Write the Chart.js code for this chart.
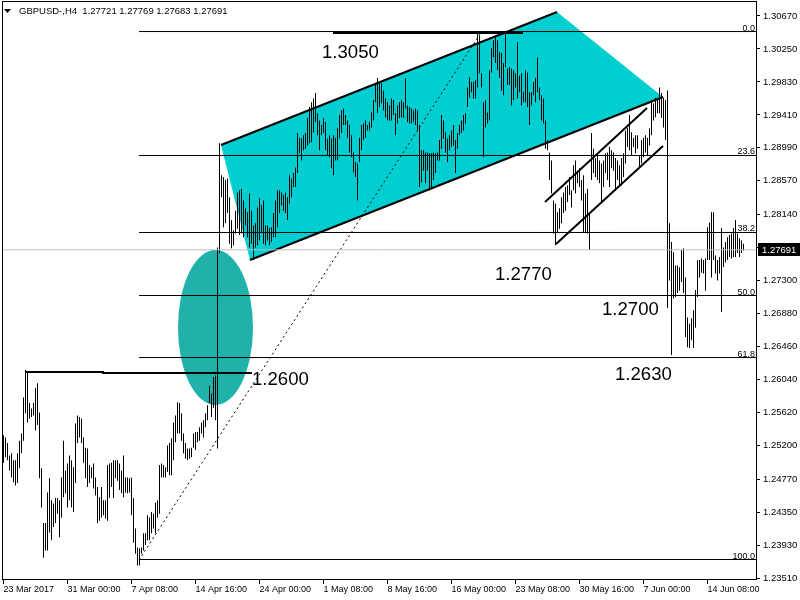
<!DOCTYPE html>
<html>
<head>
<meta charset="utf-8">
<script src="https://cdn.jsdelivr.net/npm/chart.js@4.4.1/dist/chart.umd.min.js"></script>
<style>
  html, body { margin: 0; padding: 0; background: #fff; }
  canvas { display: block; }
</style>
</head>
<body>
<canvas id="graficoGbp" width="800" height="600"></canvas>
<script>
// ---------------- dados ----------------
const tituloSimbolo = "GBPUSD-,H4  1.27721 1.27769 1.27683 1.27691";
const ultimoPreco = 1.27691;

// máximas e mínimas de cada barra H4
const maximas = [
  1.2533,1.2530,1.2523,1.2507,1.2510,1.2501,1.2501,1.2510,1.2526,1.2535,
  1.2581,1.2616,1.2613,1.2574,1.2567,1.2574,1.2593,1.2599,1.2562,1.2491,
  1.2421,1.2421,1.2460,1.2478,1.2450,1.2446,1.2453,1.2453,1.2450,1.2479,
  1.2526,1.2488,1.2497,1.2507,1.2501,1.2492,1.2548,1.2558,1.2556,1.2554,
  1.2530,1.2517,1.2516,1.2495,1.2492,1.2497,1.2479,1.2467,1.2454,1.2467,
  1.2450,1.2450,1.2495,1.2497,1.2498,1.2501,1.2501,1.2501,1.2497,1.2488,
  1.2507,1.2479,1.2479,1.2478,1.2479,1.2453,1.2414,1.2390,1.2389,1.2390,
  1.2408,1.2408,1.2431,1.2428,1.2435,1.2433,1.2447,1.2450,1.2495,1.2497,
  1.2495,1.2492,1.2520,1.2523,1.2529,1.2549,1.2558,1.2575,1.2574,1.2561,
  1.2535,1.2523,1.2516,1.2516,1.2517,1.2535,1.2537,1.2537,1.2543,1.2549,
  1.2552,1.2561,1.2571,1.2596,1.2586,1.2607,1.2609,1.2772,1.2905,1.2864,
  1.2862,1.2858,1.2860,1.2836,1.2807,1.2794,1.2819,1.2842,1.2845,1.2847,
  1.2832,1.2822,1.2817,1.2841,1.2819,1.2800,1.2803,1.2823,1.2835,1.2826,
  1.2832,1.2800,1.2800,1.2797,1.2798,1.2816,1.2832,1.2845,1.2845,1.2842,
  1.2839,1.2842,1.2836,1.2864,1.2860,1.2867,1.2874,1.2918,1.2912,1.2911,
  1.2915,1.2918,1.2937,1.2951,1.2957,1.2962,1.2969,1.2943,1.2934,1.2928,
  1.2937,1.2932,1.2911,1.2915,1.2911,1.2915,1.2912,1.2924,1.2941,1.2947,
  1.2949,1.2941,1.2934,1.2928,1.2915,1.2893,1.2881,1.2879,1.2912,1.2928,
  1.2930,1.2934,1.2928,1.2932,1.2944,1.2960,1.2981,1.2988,1.2983,1.2981,
  1.2972,1.2962,1.2957,1.2953,1.2962,1.2960,1.2943,1.2953,1.2957,1.2960,
  1.2957,1.2988,1.2953,1.2951,1.2949,1.2947,1.2949,1.2947,1.2928,1.2896,
  1.2896,1.2893,1.2893,1.2892,1.2892,1.2893,1.2892,1.2893,1.2909,1.2941,
  1.2934,1.2919,1.2911,1.2915,1.2921,1.2928,1.2909,1.2918,1.2928,1.2934,
  1.2941,1.2943,1.2976,1.2989,1.2983,1.2983,1.2985,1.3045,1.3042,1.2994,
  1.2957,1.2960,1.2944,1.2998,1.3026,1.3036,1.3040,1.3036,1.3021,1.3020,
  1.3007,1.3045,1.3000,1.3002,1.3000,1.2998,1.2994,1.3034,1.2991,1.2994,
  1.2970,1.2998,1.2995,1.2970,1.2970,1.2983,1.2988,1.3014,1.2976,1.2966,
  1.2962,1.2934,1.2909,1.2893,1.2883,1.2832,1.2828,1.2817,1.2822,1.2836,
  1.2842,1.2849,1.2851,1.2862,1.2845,1.2877,1.2883,1.2870,1.2873,1.2858,
  1.2864,1.2841,1.2847,1.2816,1.2918,1.2898,1.2886,1.2890,1.2883,1.2879,
  1.2883,1.2892,1.2893,1.2900,1.2896,1.2893,1.2886,1.2883,1.2877,1.2886,
  1.2892,1.2921,1.2925,1.2941,1.2919,1.2912,1.2915,1.2915,1.2890,1.2909,
  1.2912,1.2915,1.2912,1.2924,1.2957,1.2956,1.2963,1.2962,1.2976,1.2969,
  1.2963,1.2960,1.2972,1.2803,1.2779,1.2766,1.2749,1.2749,1.2747,1.2769,
  1.2771,1.2734,1.2683,1.2675,1.2682,1.2692,1.2718,1.2756,1.2756,1.2758,
  1.2756,1.2758,1.2798,1.2804,1.2817,1.2817,1.2762,1.2756,1.2760,1.2797,
  1.2772,1.2779,1.2785,1.2788,1.2790,1.2797,1.2807,1.2790,1.2784,1.2781,
  1.2777
];
const minimas = [
  1.2498,1.2505,1.2501,1.2488,1.2479,1.2473,1.2469,1.2472,1.2491,1.2510,
  1.2526,1.2561,1.2549,1.2554,1.2556,1.2558,1.2539,1.2546,1.2478,1.2441,
  1.2377,1.2386,1.2386,1.2409,1.2399,1.2416,1.2421,1.2433,1.2403,1.2428,
  1.2454,1.2459,1.2441,1.2450,1.2441,1.2435,1.2472,1.2523,1.2530,1.2523,
  1.2498,1.2478,1.2467,1.2472,1.2478,1.2465,1.2456,1.2421,1.2424,1.2428,
  1.2431,1.2427,1.2424,1.2453,1.2467,1.2453,1.2478,1.2475,1.2463,1.2459,
  1.2454,1.2460,1.2459,1.2460,1.2431,1.2396,1.2382,1.2367,1.2367,1.2382,
  1.2386,1.2393,1.2399,1.2399,1.2408,1.2414,1.2408,1.2428,1.2433,1.2479,
  1.2479,1.2479,1.2486,1.2482,1.2482,1.2501,1.2524,1.2535,1.2535,1.2526,
  1.2510,1.2503,1.2501,1.2503,1.2505,1.2517,1.2514,1.2524,1.2526,1.2535,
  1.2530,1.2543,1.2552,1.2574,1.2556,1.2568,1.2552,1.2516,1.2765,1.2836,
  1.2798,1.2803,1.2816,1.2777,1.2771,1.2775,1.2790,1.2796,1.2788,1.2790,
  1.2785,1.2800,1.2785,1.2772,1.2777,1.2756,1.2772,1.2775,1.2781,1.2791,
  1.2777,1.2775,1.2781,1.2775,1.2779,1.2785,1.2785,1.2798,1.2816,1.2826,
  1.2819,1.2816,1.2807,1.2828,1.2836,1.2849,1.2849,1.2867,1.2892,1.2883,
  1.2896,1.2898,1.2902,1.2905,1.2906,1.2919,1.2932,1.2915,1.2896,1.2915,
  1.2918,1.2896,1.2890,1.2887,1.2873,1.2864,1.2883,1.2883,1.2911,1.2918,
  1.2928,1.2928,1.2912,1.2893,1.2887,1.2868,1.2862,1.2832,1.2881,1.2896,
  1.2909,1.2912,1.2921,1.2921,1.2925,1.2934,1.2957,1.2943,1.2951,1.2956,
  1.2947,1.2938,1.2934,1.2934,1.2934,1.2941,1.2915,1.2930,1.2937,1.2938,
  1.2937,1.2949,1.2932,1.2930,1.2930,1.2932,1.2928,1.2921,1.2849,1.2855,
  1.2870,1.2854,1.2870,1.2845,1.2849,1.2858,1.2867,1.2883,1.2883,1.2898,
  1.2911,1.2893,1.2881,1.2896,1.2900,1.2902,1.2867,1.2898,1.2915,1.2918,
  1.2921,1.2930,1.2951,1.2963,1.2970,1.2962,1.2962,1.2976,1.2994,1.2976,
  1.2887,1.2925,1.2930,1.2934,1.2995,1.3014,1.3007,1.2998,1.2988,1.2972,
  1.2966,1.3002,1.2979,1.2979,1.2953,1.2960,1.2976,1.2962,1.2970,1.2953,
  1.2957,1.2957,1.2951,1.2928,1.2953,1.2966,1.2957,1.2970,1.2960,1.2934,
  1.2930,1.2898,1.2896,1.2858,1.2841,1.2790,1.2775,1.2791,1.2796,1.2803,
  1.2816,1.2819,1.2830,1.2839,1.2823,1.2845,1.2841,1.2854,1.2849,1.2832,
  1.2791,1.2791,1.2790,1.2769,1.2858,1.2867,1.2862,1.2858,1.2854,1.2828,
  1.2849,1.2867,1.2858,1.2849,1.2873,1.2870,1.2845,1.2858,1.2849,1.2851,
  1.2862,1.2879,1.2900,1.2896,1.2890,1.2900,1.2892,1.2898,1.2874,1.2879,
  1.2887,1.2893,1.2890,1.2902,1.2915,1.2934,1.2938,1.2943,1.2943,1.2937,
  1.2925,1.2909,1.2695,1.2730,1.2635,1.2707,1.2709,1.2714,1.2717,1.2728,
  1.2714,1.2658,1.2645,1.2644,1.2654,1.2644,1.2670,1.2709,1.2734,1.2740,
  1.2739,1.2717,1.2756,1.2756,1.2734,1.2756,1.2739,1.2730,1.2739,1.2690,
  1.2747,1.2753,1.2756,1.2760,1.2758,1.2760,1.2760,1.2765,1.2760,1.2765,
  1.2768
];

// eixo do tempo (posição = número da barra)
const rotulosTempo = ["23 Mar 2017", "31 Mar 00:00", "7 Apr 08:00", "14 Apr 16:00", "24 Apr 00:00", "1 May 08:00",
  "8 May 16:00", "16 May 00:00", "23 May 08:00", "30 May 16:00", "7 Jun 00:00", "14 Jun 08:00"];
const barrasTempo = [0, 32, 64, 96, 128, 160, 192, 224, 256, 288, 320, 352];

// eixo de preços
const rotulosPreco = [1.30670, 1.30250, 1.29830, 1.29410, 1.28990, 1.28570, 1.28140, 1.27720, 1.27300,
  1.26880, 1.26460, 1.26040, 1.25620, 1.25200, 1.24770, 1.24350, 1.23930, 1.23510];

// fibonacci
const fiboNiveis = [1.30472, 1.28893, 1.27912, 1.27109, 1.26319, 1.23746];
const fiboNomes = ["0.0", "23.6", "38.2", "50.0", "61.8", "100.0"];
const fiboInicio = 67.75;

// canal azul (bordas de cima e de baixo)
const canalCimaX = [108.75, 276.75, 329.75];
const canalCimaY = [1.29027, 1.30721, 1.29638];
const canalBaixoX = [108.75, 123.25, 329.75];
const canalBaixoY = [1.29027, 1.27562, 1.29638];

// linhas desenhadas
const linhaSupX = [108.75, 276.75];     const linhaSupY = [1.29027, 1.30721];
const linhaInfX = [123.25, 329.75];     const linhaInfY = [1.27562, 1.29638];
const miniSupX = [270.75, 321.75];      const miniSupY = [1.28301, 1.29498];
const miniInfX = [276.25, 329.75];      const miniInfY = [1.27765, 1.29014];
const topoX = [164.75, 259.75];         const topoY = [1.30454, 1.30454];
const suporteX = [11.25, 49.75, 49.75, 124.25];
const suporteY = [1.26135, 1.26135, 1.26122, 1.26122];
const fiboDiagX = [67.75, 239.25];      const fiboDiagY = [1.23740, 1.30479];

// textos
const notasTexto = ["1.3050", "1.2600", "1.2770", "1.2700", "1.2630"];
const notasBarra = [159.25, 124.25, 245.75, 299.25, 305.75];
const notasPreco = [1.30135, 1.25969, 1.27307, 1.26861, 1.26033];

// elipse
const elipseBarra = 106;
const elipsePreco = 1.26702;
const elipseRaioBarras = 18.75;
const elipseRaioPreco = 0.00987;

// ---------------- gráfico ----------------
const fonte = "'Liberation Sans', Arial, sans-serif";
Chart.defaults.font.family = fonte;

function pontos(xs, ys) {
  return xs.map((v, i) => ({ x: v, y: ys[i] }));
}

function linha(xs, ys, largura, cor, tracejado) {
  return {
    type: "line",
    data: pontos(xs, ys),
    borderColor: cor || "#000",
    borderWidth: largura,
    borderDash: tracejado || [],
    pointRadius: 0,
    fill: false,
    order: 1,
  };
}

const datasets = [
  {
    type: "line",
    data: pontos(canalCimaX, canalCimaY),
    borderWidth: 0,
    pointRadius: 0,
    backgroundColor: "#00CED1",
    fill: "+1",
    order: 10,
  },
  {
    type: "line",
    data: pontos(canalBaixoX, canalBaixoY),
    borderWidth: 0,
    pointRadius: 0,
    fill: false,
    order: 11,
  },
  {
    type: "bar",
    data: maximas.map((h, i) => ({ x: i, y: [minimas[i], h] })),
    backgroundColor: "#000",
    borderWidth: 0,
    barThickness: 1,
    inflateAmount: 0,
    order: 5,
  },
  linha([-0.75, 376.75], [ultimoPreco, ultimoPreco], 1, "#C0C0C0"),
];

fiboNiveis.forEach((nivel) => {
  datasets.push(linha([fiboInicio, 376.75], [nivel, nivel], 1));
});
datasets.push(linha(fiboDiagX, fiboDiagY, 1, "#000", [2, 3]));
datasets.push(linha(linhaSupX, linhaSupY, 2));
datasets.push(linha(linhaInfX, linhaInfY, 2));
datasets.push(linha(miniSupX, miniSupY, 2));
datasets.push(linha(miniInfX, miniInfY, 2));
datasets.push(linha(topoX, topoY, 2));
datasets.push(linha(suporteX, suporteY, 2));

const desenhos = {
  id: "desenhos",
  beforeDatasetsDraw(chart) {
    const { ctx, scales: { x, y } } = chart;
    const cx = x.getPixelForValue(elipseBarra);
    const cy = y.getPixelForValue(elipsePreco);
    const rx = Math.abs(x.getPixelForValue(elipseBarra + elipseRaioBarras) - cx);
    const ry = Math.abs(y.getPixelForValue(elipsePreco + elipseRaioPreco) - cy);
    ctx.save();
    ctx.fillStyle = "#20B2AA";
    ctx.beginPath();
    ctx.ellipse(cx, cy, rx, ry, 0, 0, Math.PI * 2);
    ctx.fill();
    ctx.restore();
  },
  afterDraw(chart) {
    const { ctx, chartArea: a, scales: { x, y } } = chart;
    ctx.save();
    // moldura
    ctx.strokeStyle = "#000";
    ctx.lineWidth = 1;
    ctx.strokeRect(a.left + 0.5, a.top + 0.5, a.right - a.left - 1, a.bottom - a.top - 1);

    // níveis fibo
    ctx.fillStyle = "#000";
    ctx.font = "9px " + fonte;
    ctx.textAlign = "right";
    ctx.textBaseline = "alphabetic";
    fiboNiveis.forEach((nivel, i) => {
      ctx.fillText(fiboNomes[i], a.right - 2, Math.round(y.getPixelForValue(nivel)) - 1);
    });

    // textos grandes
    ctx.font = "18.6px " + fonte;
    ctx.textAlign = "left";
    notasTexto.forEach((t, i) => {
      ctx.fillText(t, x.getPixelForValue(notasBarra[i]), y.getPixelForValue(notasPreco[i]));
    });

    // título
    ctx.beginPath();
    ctx.moveTo(4, 9);
    ctx.lineTo(11, 9);
    ctx.lineTo(7.5, 13);
    ctx.closePath();
    ctx.fill();
    ctx.font = "9.5px " + fonte;
    ctx.textBaseline = "middle";
    ctx.fillText(tituloSimbolo, 19, 11);

    // etiqueta do último preço
    const yp = Math.round(y.getPixelForValue(ultimoPreco));
    ctx.fillStyle = "#000";
    ctx.fillRect(a.right + 1, yp - 7, 800 - a.right - 1, 13);
    ctx.fillStyle = "#fff";
    ctx.fillText(ultimoPreco.toFixed(5), a.right + 5, yp);
    ctx.restore();
  },
};

const graficoGbp = new Chart(document.getElementById("graficoGbp"), {
  data: { datasets },
  options: {
    responsive: false,
    devicePixelRatio: 1,
    animation: false,
    layout: { padding: { left: 2, top: 1, right: 0, bottom: 0 } },
    plugins: { legend: { display: false }, tooltip: { enabled: false } },
    scales: {
      x: {
        type: "linear",
        position: "bottom",
        offset: false,
        min: -0.75,
        max: 376.75,
        grid: { offset: false, drawOnChartArea: false, drawTicks: true, tickLength: 4, color: "#000" },
        border: { display: false },
        ticks: {
          autoSkip: false,
          maxRotation: 0,
          align: "start",
          padding: 0,
          color: "#000",
          font: { size: 9 },
          callback: (v, i) => rotulosTempo[i],
        },
        afterBuildTicks: (s) => { s.ticks = barrasTempo.map((v) => ({ value: v })); },
        afterFit: (s) => { s.height = 20; s.paddingLeft = 0; s.paddingRight = 0; },
      },
      y: {
        type: "linear",
        position: "right",
        min: 1.23485,
        max: 1.30861,
        grid: { drawOnChartArea: false, drawTicks: true, tickLength: 3, color: "#000" },
        border: { display: false },
        ticks: {
          padding: 3,
          color: "#000",
          font: { size: 9.5 },
          callback: (v) => v.toFixed(5),
        },
        afterBuildTicks: (s) => { s.ticks = rotulosPreco.map((v) => ({ value: v })); },
        afterFit: (s) => { s.width = 43; s.paddingTop = 0; s.paddingBottom = 0; },
      },
    },
  },
  plugins: [desenhos],
});
</script>
</body>
</html>
